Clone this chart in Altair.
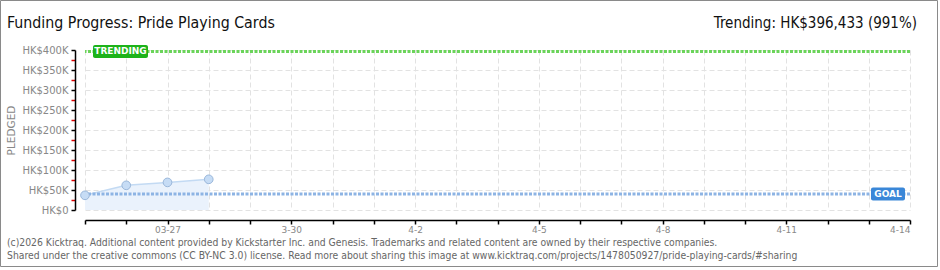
import json
import altair as alt
import pandas as pd

# ---- data ----
day_labels = ["03-25", "03-26", "03-27", "03-28", "03-29", "03-30", "03-31",
              "04-01", "04-02", "04-03", "04-04", "04-05", "04-06", "04-07",
              "04-08", "04-09", "04-10", "04-11", "04-12", "04-13", "04-14"]
tick_labels = ["", "", "03-27", "", "", "3-30", "", "", "4-2", "", "",
               "4-5", "", "", "4-8", "", "", "4-11", "", "", "4-14"]
pledged_days = ["03-25", "03-26", "03-27", "03-28"]
pledged_values = [36700, 61700, 69000, 76700]
goal_value = 40000
trending_value = 396433
y_tick_values = list(range(0, 400001, 25000))

title_text = "Funding Progress: Pride Playing Cards"
trend_text = "Trending: HK$396,433 (991%)"
footer_lines = [
    "(c)2026 Kicktraq. Additional content provided by Kickstarter Inc. and Genesis. Trademarks and related content are owned by their respective companies.",
    "Shared under the creative commons (CC BY-NC 3.0) license. Read more about sharing this image at www.kicktraq.com/projects/1478050927/pride-playing-cards/#sharing",
]

df = pd.DataFrame({
    "day": [day_labels.index(d) for d in pledged_days],
    "pledged": pledged_values,
})
one = pd.DataFrame({"a": [0]})

LABEL_FONT = "DejaVu Sans"
TITLE_FONT = "DejaVu Sans Condensed"

x_enc = alt.X(
    "day:Q",
    scale=alt.Scale(domain=[0, len(day_labels) - 1], nice=False, zero=False),
    axis=alt.Axis(
        values=list(range(len(day_labels))),
        labelExpr=json.dumps(tick_labels) + "[datum.value]",
        labelOverlap=False,
        title=None,
        offset=10,
        domainColor="#000", domainWidth=1.5,
        tickColor="#000", tickSize=4, tickWidth=1.5,
        labelColor="#888", labelFont=LABEL_FONT, labelFontSize=9, labelPadding=1,
        gridColor="#e2e2e2", gridDash=[5, 3], gridWidth=1,
    ),
)
y_scale = alt.Scale(domain=[0, 400000], nice=False)
y_axis = alt.Axis(
    values=y_tick_values,
    labelExpr="datum.value % 50000 != 0 ? '' : (datum.value == 0 ? 'HK$0' : 'HK$' + (datum.value/1000) + 'K')",
    labelOverlap=False,
    title="PLEDGED",
    titleFont=LABEL_FONT, titleFontSize=10.5, titleColor="#888", titleFontWeight="normal",
    titlePadding=5,
    offset=10,
    domainColor="#000", domainWidth=1.5,
    tickColor={"condition": {"test": "datum.value % 50000 != 0", "value": "#e00000"}, "value": "#000"},
    tickSize=4, tickWidth=1.5,
    labelColor="#888", labelFont=LABEL_FONT, labelFontSize=10, labelPadding=3,
    gridColor="#e2e2e2", gridDash=[5, 3], gridWidth=1,
    gridOpacity={"condition": {"test": "datum.value % 50000 != 0", "value": 0}, "value": 1},
)
y_enc = alt.Y("pledged:Q", scale=y_scale, axis=y_axis)


def ydat(v):
    return alt.YDatum(v, type="quantitative", scale=y_scale, axis=y_axis)


base = alt.Chart(df).encode(x=x_enc, y=y_enc)
area = base.mark_area(color="#eaf2fc", opacity=1)
line = base.mark_line(color="#c3daf3", strokeWidth=1.5)
points = base.mark_point(filled=True, size=75, fill="#c6dcf5", stroke="#9ab7da", strokeWidth=1, opacity=1)

goal_rule = alt.Chart(one).mark_rule(color="#8db4e4", strokeWidth=3, strokeDash=[3, 1.5]).encode(y=ydat(goal_value))
trend_rule = alt.Chart(one).mark_rule(color="#6bd45a", strokeWidth=3, strokeDash=[3, 1.5]).encode(y=ydat(trending_value))

trend_box = alt.Chart(one).mark_rect(color="#1db31a", cornerRadius=2, yOffset=-6.5, y2Offset=6.5).encode(
    x=alt.value(8), x2=alt.value(63), y=ydat(trending_value), y2=alt.Y2Datum(trending_value))
trend_lbl = alt.Chart(one).mark_text(text="TRENDING", color="white", font=LABEL_FONT, fontSize=9,
                                     fontWeight="bold", baseline="middle", align="center").encode(
    x=alt.value(35.5), y=ydat(trending_value))
goal_box = alt.Chart(one).mark_rect(color="#3a87d8", cornerRadius=2, yOffset=-6.5, y2Offset=6.5).encode(
    x=alt.value(786), x2=alt.value(820), y=ydat(goal_value), y2=alt.Y2Datum(goal_value))
goal_lbl = alt.Chart(one).mark_text(text="GOAL", color="white", font=LABEL_FONT, fontSize=9,
                                    fontWeight="bold", baseline="middle", align="center").encode(
    x=alt.value(803), y=ydat(goal_value))

border = alt.Chart(one).mark_rect(filled=False, stroke="#8a8a8a", strokeWidth=1).encode(
    x=alt.value(-84.5), x2=alt.value(852.5), y=alt.value(-49.5), y2=alt.value(216.5))

title = alt.Chart(one).mark_text(text=title_text, font=TITLE_FONT, fontSize=15.8, color="#111",
                                 align="left", baseline="middle").encode(x=alt.value(-78), y=alt.value(-27))
trend_title = alt.Chart(one).mark_text(text=trend_text, font=TITLE_FONT, fontSize=15, color="#111",
                                       align="right", baseline="middle").encode(x=alt.value(832), y=alt.value(-27))
footer = alt.layer(*[
    alt.Chart(one).mark_text(text=t, font=TITLE_FONT, fontSize=10.3, color="#666",
                             align="left", baseline="middle").encode(x=alt.value(-78), y=alt.value(yy))
    for t, yy in zip(footer_lines, [193, 206])
])

chart = alt.layer(
    area, line, goal_rule, trend_rule, points,
    trend_box, trend_lbl, goal_box, goal_lbl,
    border, title, trend_title, footer,
).properties(
    width=825, height=160,
    autosize=alt.AutoSizeParams(type="none"),
    padding={"left": 85, "top": 50, "right": 30, "bottom": 60},
    background="white",
).configure_view(stroke=None)

chart.save("out.html", embed_options={"renderer": "svg", "actions": False})
